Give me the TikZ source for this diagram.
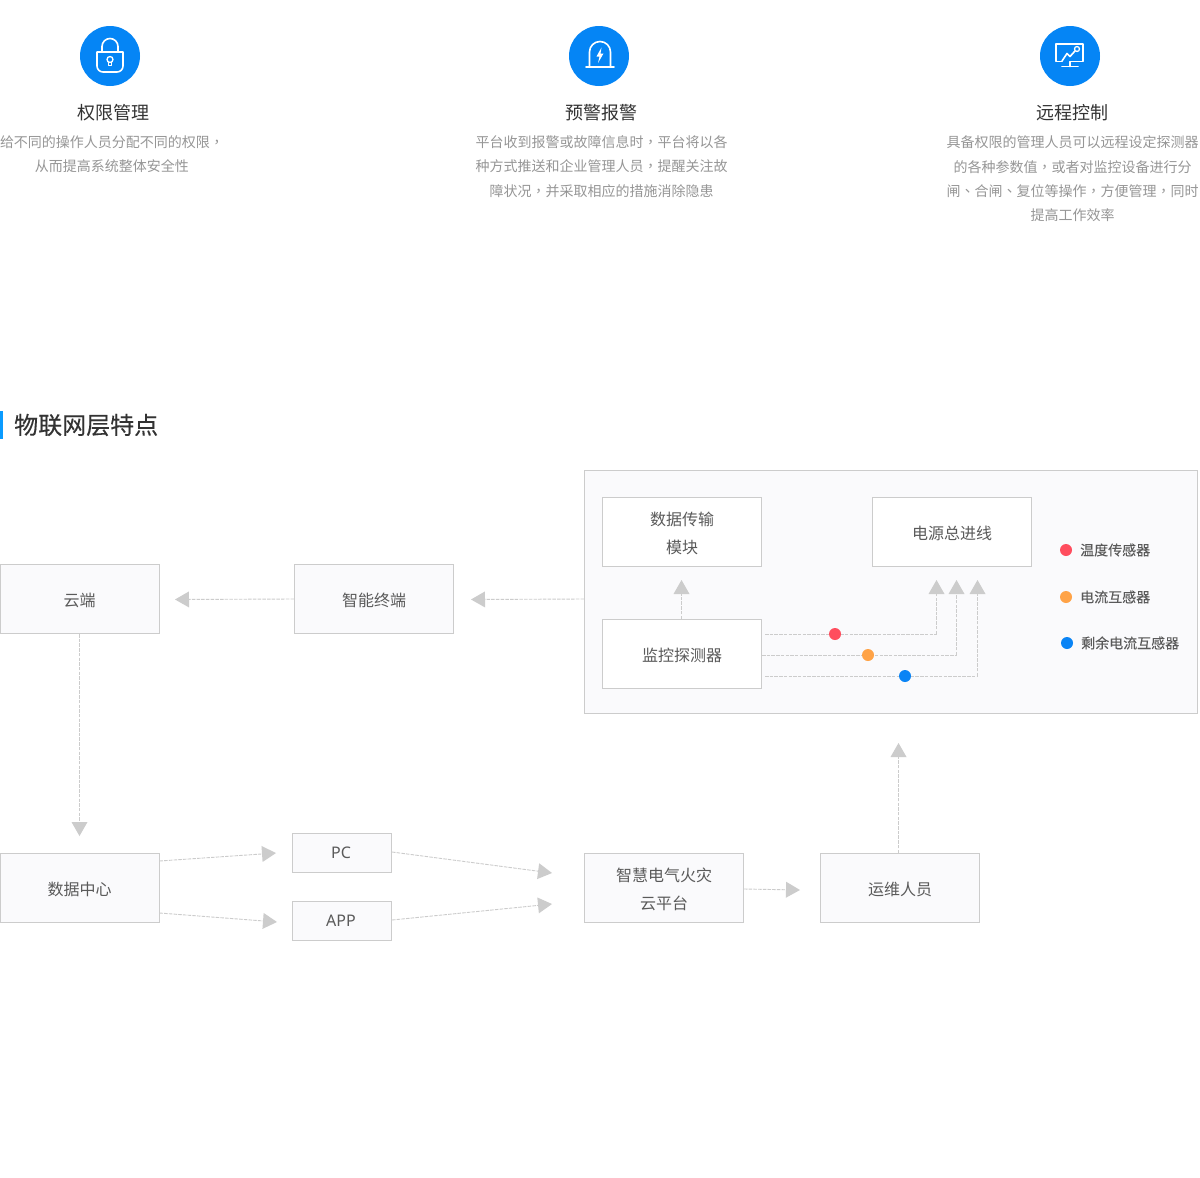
\documentclass[tikz,border=0pt]{standalone}
\usepackage{fontspec}
\setmainfont{Noto Sans CJK SC}
\newfontfamily\tcf{Noto Sans CJK TC}
\newfontfamily\latf{Noto Sans}
\newfontfamily\fbf[FakeBold=0.25]{Noto Sans CJK SC}
\newfontfamily\fbl[FakeBold=0.1]{Noto Sans CJK SC}
\newcommand{\cma}{{\tcf ，}}
\newcommand{\dun}{{\tcf 、}}
\usetikzlibrary{arrows.meta}
\definecolor{blueicon}{HTML}{0585F5}
\definecolor{edge}{HTML}{CCCCCC}
\definecolor{panelbg}{HTML}{FAFAFC}
\definecolor{labeltx}{HTML}{5A5A5A}
\definecolor{headtx}{HTML}{333333}
\definecolor{bodytx}{HTML}{969696}
\definecolor{redd}{HTML}{FF4D5E}
\definecolor{orgd}{HTML}{FFA347}
\definecolor{blud}{HTML}{0A84F5}
\definecolor{barc}{HTML}{0A9BFF}
\tikzset{
  x=1pt,y=-1pt,
  boxtx/.style={text=labeltx,font=\fontsize{16}{28}\selectfont,align=center,inner sep=0pt,yshift=-1.5pt},
  box/.style={draw=edge,line width=1pt,fill=panelbg,inner sep=0pt,minimum width=159pt,minimum height=69pt},
  wbox/.style={box,fill=white},
  smallbox/.style={draw=edge,line width=1pt,fill=panelbg,text=labeltx,font=\latf\fontsize{16}{20}\selectfont,inner sep=0pt,minimum width=99pt,minimum height=39pt},
  conn/.style={draw=edge,line width=.9pt,dash pattern=on 3.5pt off 1.2pt,-{Triangle[width=16pt,length=14pt,color=edge,fill=edge,line width=0pt]}},
  wire/.style={draw=edge,line width=.9pt,dash pattern=on 3.5pt off 1.2pt},
  icon/.style={circle,fill=blueicon,draw=none,minimum size=60pt,inner sep=0pt},
  glyph/.style={draw=white,line width=1.6pt,line join=round,line cap=round},
  head/.style={text=headtx,font=\fontsize{18}{24}\selectfont,inner sep=0pt},
  body/.style={text=bodytx,font=\fontsize{14}{24.3}\selectfont,align=center,inner sep=0pt},
  dotm/.style={circle,fill=#1,minimum size=12pt,inner sep=0pt,draw=none},
  legend/.style={text=labeltx,font=\fbl\fontsize{14}{18}\selectfont,anchor=west,inner sep=0pt},
}
\begin{document}
\begin{tikzpicture}
\useasboundingbox[fill=white] (0,0) rectangle (1200,1178);
% top icons
\node[icon] (ic1) at (110,56) {};
\draw[glyph] (97,52) -- (123,52) -- (123,66) arc[start angle=0,end angle=90,radius=6] -- (103,72) arc[start angle=90,end angle=180,radius=6] -- cycle;
\draw[glyph] (102,51.5) -- (102,46.5) arc[start angle=180,end angle=0,x radius=8,y radius=-8] -- (118,51.5);
\draw[glyph,line width=1.3pt] (110,59.5) circle[radius=3];
\draw[glyph,line width=1.3pt] (108.6,62) -- (108.6,65.7) -- (111.4,65.7) -- (111.4,62);
\node[icon] (ic2) at (599,56) {};
\draw[glyph] (586,67) -- (614,67);
\draw[glyph] (589.5,66) -- (589.5,52) arc[start angle=180,end angle=0,x radius=10.5,y radius=-10.5] -- (610.5,66);
\draw[draw=none,fill=white] (601.5,47.5) -- (596.5,56.5) -- (599.5,56.5) -- (598,63) -- (603.5,53.5) -- (600.5,53.5) -- cycle;
\node[icon] (ic3) at (1070,56) {};
\draw[glyph] (1062,61.5) -- (1056,61.5) -- (1056,44) -- (1083,44) -- (1083,61.5) -- (1070,61.5) -- (1070,66.5);
\draw[glyph] (1062,66.5) -- (1078,66.5);
\draw[glyph] (1062,61) -- (1067,53.5) -- (1070,56.5) -- (1075,51);
\draw[glyph,line width=1.3pt] (1077,49) circle[radius=2.5];
% top texts
\node[head] (h1) at (113,113) {权限管理};
\node[body] (b1) at (112,154) {给不同的操作人员分配不同的权限\cma\\从而提高系统整体安全性};
\node[head] (h2) at (601.5,113) {预警报警};
\node[body] (b2) at (601.5,166.5) {平台收到报警或故障信息时\cma 平台将以各\\种方式推送和企业管理人员\cma 提醒关注故\\障状况\cma 并采取相应的措施消除隐患};
\node[head] (h3) at (1072.5,113) {远程控制};
\node[body] (b3) at (1072.5,179) {具备权限的管理人员可以远程设定探测器\\的各种参数值\cma 或者对监控设备进行分\\闸\dun 合闸\dun 复位等操作\cma 方便管理\cma 同时\\提高工作效率};
% section title
\fill[barc] (0,411) rectangle (3,439);
\node[anchor=west,inner sep=0pt,text=headtx,font=\fbf\fontsize{24}{28}\selectfont] (title) at (14,425) {物联网层特点};
% panel
\node[draw=edge,line width=1pt,fill=panelbg,minimum width=613pt,minimum height=243pt,inner sep=0pt] (panel) at (891,592) {};
% boxes
\node[box,label={[boxtx]center:云端}] (cloud) at (79.5,599) {};
\node[box,label={[boxtx]center:智能终端}] (term) at (374,599) {};
\node[box,label={[boxtx]center:数据中心}] (dc) at (79.5,888) {};
\node[smallbox] (pc) at (342,853) {PC\kern2pt};
\node[smallbox] (app) at (342,921) {APP\kern2pt};
\node[box,label={[boxtx]center:{智慧电气火灾\\云平台}}] (plat) at (664,888) {};
\node[box,label={[boxtx]center:运维人员}] (ops) at (900,888) {};
\node[wbox,label={[boxtx]center:{数据传输\\模块}}] (trans) at (682,532) {};
\node[wbox,label={[boxtx]center:电源总进线}] (power) at (952,532) {};
\node[wbox,label={[boxtx]center:监控探测器}] (mon) at (682,654) {};
% arrow ends
\coordinate (e1) at (175,599.5);
\coordinate (e2) at (471,599.5);
\coordinate (e3) at (79.5,836);
\coordinate (e4) at (898.5,743);
\coordinate (e5) at (276,853);
\coordinate (e6) at (277,922);
\coordinate (e7) at (552,873);
\coordinate (e8) at (552,904);
\coordinate (e9) at (800,890);
\coordinate (e10) at (681.5,580);
\coordinate (t1) at (936.5,580);
\coordinate (t2) at (956.5,580);
\coordinate (t3) at (977.5,580);
% connectors
\draw[conn] (term.west) -- (e1);
\draw[conn] (panel.west |- term.west) -- (e2);
\draw[conn] (cloud.south) -- (e3);
\draw[conn] (ops.north -| e4) -- (e4);
\draw[conn] ([yshift=27pt]dc.east) -- (e5);
\draw[conn] ([yshift=-25pt]dc.east) -- (e6);
\draw[conn] ([yshift=1pt]pc.east) -- (e7);
\draw[conn] ([yshift=1pt]app.east) -- (e8);
\draw[conn] ([yshift=-1pt]plat.east) -- (e9);
\draw[conn] (mon.north -| e10) -- (e10);
% sensor wires
\coordinate (w1) at (765,634);
\coordinate (w2) at (762,655);
\coordinate (w3) at (765,676);
\draw[wire] (w1) -- (t1 |- w1);
\draw[wire] (w2) -- (t2 |- w2);
\draw[wire] (w3) -- (t3 |- w3);
\draw[conn] (t1 |- w1) -- (t1);
\draw[conn] (t2 |- w2) -- (t2);
\draw[conn] (t3 |- w3) -- (t3);
\node[dotm=redd] (d1) at (835,634) {};
\node[dotm=orgd] (d2) at (868,655) {};
\node[dotm=blud] (d3) at (905,676) {};
% legend
\node[dotm=redd] (l1) at (1066,550) {};
\node[dotm=orgd] (l2) at (1066,597) {};
\node[dotm=blud] (l3) at (1067,643) {};
\node[legend] (lt1) at (1080,550) {温度传感器};
\node[legend] (lt2) at (1080,597) {电流互感器};
\node[legend] (lt3) at (1081,643) {剩余电流互感器};
\end{tikzpicture}
\end{document}
